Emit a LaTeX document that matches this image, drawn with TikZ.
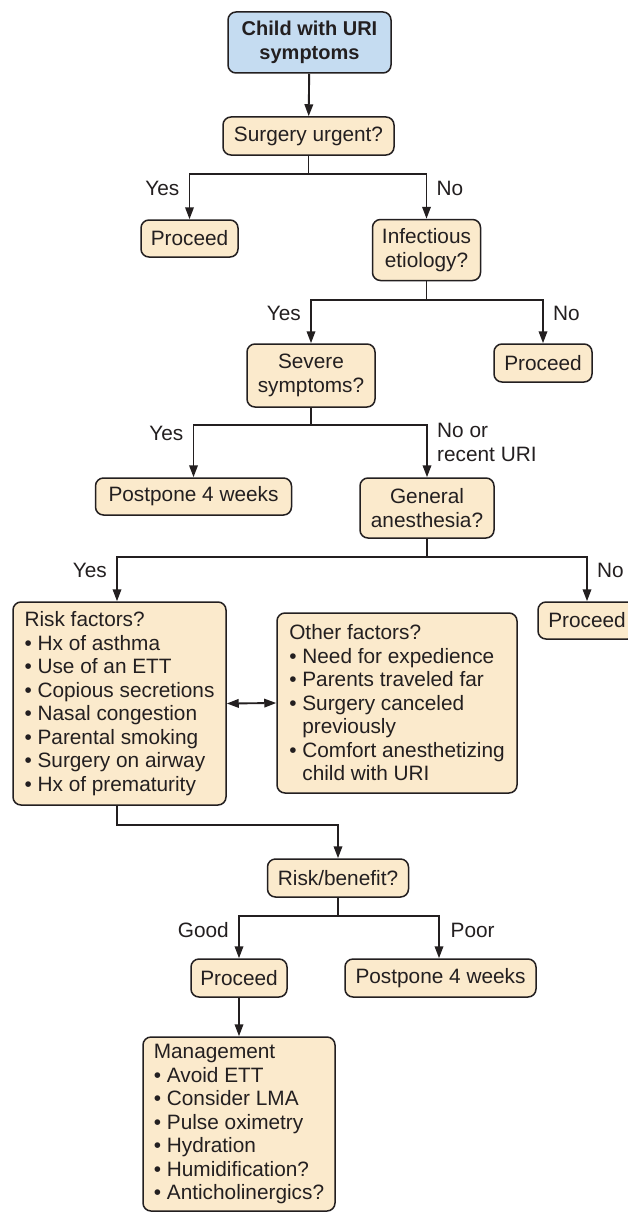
\documentclass[tikz,border=0pt]{standalone}
\usepackage{fontspec}
\setmainfont{Liberation Sans}
\usetikzlibrary{arrows.meta}
\definecolor{beige}{HTML}{FBEACC}
\definecolor{lblue}{HTML}{C5DCF1}
\definecolor{ink}{HTML}{231F20}
\newcommand{\bul}{•\ }
\newcommand{\ind}{\phantom{•\ }}
\begin{document}
\begin{tikzpicture}[x=1pt,y=-1pt,
  every node/.style={font=\fontsize{20.8}{23.5}\selectfont, text=ink},
  box/.style={draw=ink, line width=1.5pt, rounded corners=8pt, fill=beige, inner sep=0pt, align=center},
  listbox/.style={box, align=left},
  lab/.style={inner sep=0pt},
  line/.style={draw=ink, line width=1.9pt},
  arr/.style={line, -{Triangle[length=12pt,width=8.5pt]}},
  darr/.style={line, {Triangle[length=12pt,width=8.5pt]}-{Triangle[length=12pt,width=8.5pt]}}]
\useasboundingbox (0,0) rectangle (628,1212);
\fill[white] (0,0) rectangle (628,1212);

% nodes
\node[box, fill=lblue, minimum width=163pt, minimum height=61pt, font=\fontsize{20}{23.5}\selectfont\bfseries] (child) at (309.5,42.5) {Child with URI\\symptoms};
\node[box, minimum width=171pt, minimum height=38pt] (urgent) at (308.5,136) {Surgery urgent?};
\node[box, minimum width=97pt, minimum height=37pt] (proc1) at (189.5,238.5) {Proceed};
\node[box, minimum width=108pt, minimum height=61pt] (infect) at (426.5,250) {Infectious\\etiology?};
\node[box, minimum width=128pt, minimum height=63pt] (severe) at (311,375.5) {Severe\\symptoms?};
\node[box, minimum width=98pt, minimum height=38pt] (proc2) at (543,363) {Proceed};
\node[box, minimum width=196pt, minimum height=37pt] (post1) at (193.5,496.5) {Postpone 4 weeks};
\node[box, minimum width=134pt, minimum height=60pt] (general) at (427,508) {General\\anesthesia?};
\node[box, minimum width=98pt, minimum height=37pt] (proc3) at (587,620.5) {Proceed};
\node[listbox, minimum width=213pt, minimum height=203pt] (risk) at (119.5,703.5) {Risk factors?\\\bul Hx of asthma\\\bul Use of an ETT\\\bul Copious secretions\\\bul Nasal congestion\\\bul Parental smoking\\\bul Surgery on airway\\\bul Hx of prematurity};
\node[listbox, minimum width=240pt, minimum height=180pt] (other) at (397,703) {Other factors?\\\bul Need for expedience\\\bul Parents traveled far\\\bul Surgery canceled\\\ind previously\\\bul Comfort anesthetizing\\\ind child with URI};
\node[box, minimum width=141pt, minimum height=38pt] (rb) at (338,878) {Risk/benefit?};
\node[box, minimum width=96pt, minimum height=38pt] (proc4) at (239,978) {Proceed};
\node[box, minimum width=191pt, minimum height=38pt] (post2) at (440.5,978) {Postpone 4 weeks};
\node[listbox, minimum width=192pt, minimum height=174pt] (mgmt) at (239,1124) {Management\\\bul Avoid ETT\\\bul Consider LMA\\\bul Pulse oximetry\\\bul Hydration\\\bul Humidification?\\\bul Anticholinergics?};

% junction levels
\coordinate (j1) at (0,174);
\coordinate (j2) at (0,300);
\coordinate (j3) at (0,425);
\coordinate (j4) at (0,557);
\coordinate (j5) at (0,825);
\coordinate (j6) at (0,916);

% connectors
\draw[arr] (child) -- (urgent);
\draw[arr] (urgent.south) -- (urgent.south |- j1) -| (proc1.north);
\draw[arr] (urgent.south |- j1) -| (infect.north);
\draw[arr] (infect.south) -- (infect.south |- j2) -| (severe.north);
\draw[arr] (infect.south |- j2) -| (proc2.north);
\draw[arr] (severe.south) -- (severe.south |- j3) -| (post1.north);
\draw[arr] (severe.south |- j3) -| (general.north);
\draw[arr] (general.south) -- (general.south |- j4) -| ([xshift=-2.5pt]risk.north);
\draw[arr] (general.south |- j4) -| (proc3.north);
\draw[darr] (risk.east) -- (other.west);
\draw[arr] ([xshift=-2.5pt]risk.south) -- ([xshift=-2.5pt]risk.south |- j5) -| (rb.north);
\draw[arr] (rb.south) -- (rb.south |- j6) -| (proc4.north);
\draw[arr] (rb.south |- j6) -| ([xshift=-1.5pt]post2.north);
\draw[arr] (proc4) -- (mgmt);

% labels
\node[lab, anchor=east] (l1) at ([xshift=-10pt]proc1.north |- 0,188) {Yes};
\node[lab, anchor=west] (l2) at ([xshift=10pt]infect.north |- 0,188) {No};
\node[lab, anchor=east] (l3) at ([xshift=-10pt]severe.north |- 0,313) {Yes};
\node[lab, anchor=west] (l4) at ([xshift=10pt]proc2.north |- 0,313) {No};
\node[lab, anchor=east] (l5) at ([xshift=-10pt]post1.north |- 0,433) {Yes};
\node[lab, anchor=north west, align=left] (l6) at ([xshift=10pt]general.north |- 0,423) {No or\\recent URI};
\node[lab, anchor=east] (l7) at (107,570) {Yes};
\node[lab, anchor=west] (l8) at ([xshift=10pt]proc3.north |- 0,570) {No};
\node[lab, anchor=east] (l9) at ([xshift=-10pt]proc4.north |- 0,930) {Good};
\node[lab, anchor=west] (l10) at ([xshift=10pt]post2.north |- 0,930) {Poor};
\end{tikzpicture}
\end{document}
